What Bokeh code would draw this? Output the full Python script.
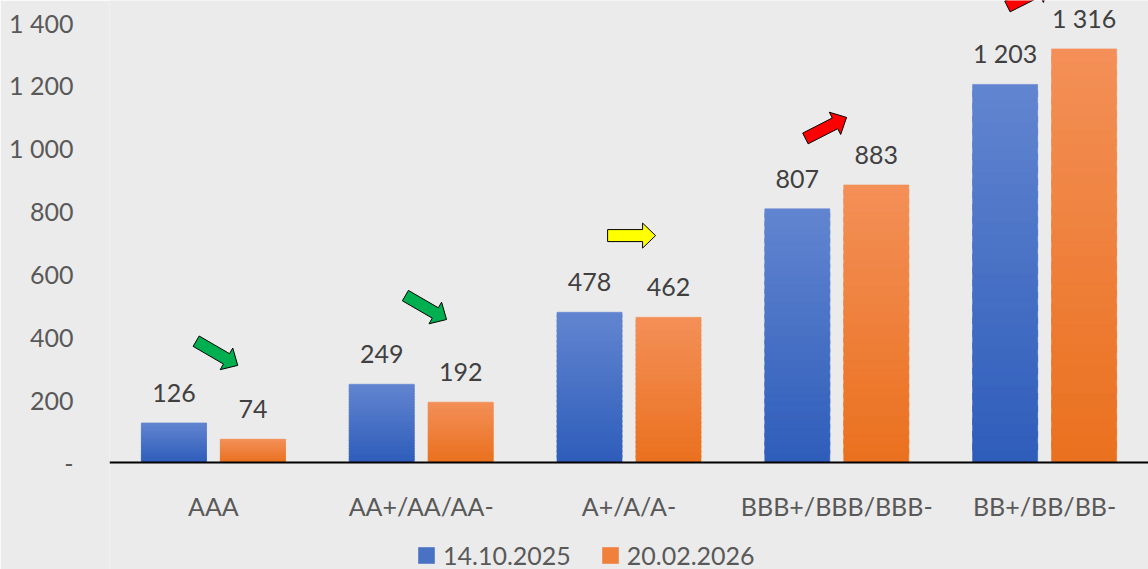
import numpy as np
from bokeh.plotting import figure
from bokeh.models import Range1d, FixedTicker, ColumnDataSource, Legend, LegendItem, LabelSet
from bokeh.core.properties import value
from bokeh.embed import file_html
from bokeh.resources import INLINE

# ---------------- data ----------------
categories = ["AAA", "AA+/AA/AA-", "A+/A/A-", "BBB+/BBB/BBB-", "BB+/BB/BB-"]
series_names = ["14.10.2025", "20.02.2026"]
values_2025 = [126, 249, 478, 807, 1203]
values_2026 = [74, 192, 462, 883, 1316]
y_ticks = [0, 200, 400, 600, 800, 1000, 1200, 1400]
y_tick_labels = ["-", "200", "400", "600", "800", "1 000", "1 200", "1 400"]
# trend arrows (decoration): tail x, tail y, tip x, tip y, colour
arrow_tail_x = [0.417, 1.424, 2.397, 3.349, 4.321]
arrow_tail_y = [386, 531, 722, 1031, 1451]
arrow_tip_x = [0.617, 1.622, 2.628, 3.547, 4.523]
arrow_tip_y = [309, 455, 722, 1098, 1518]
arrow_colors = ["#00B050", "#00B050", "#FFFF00", "#FF0000", "#FF0000"]

# ---------------- style ----------------
W, H = 1148, 569
LEFT = 109
AXIS_PX = 462          # pixel row of the value-zero line
FW, FH = W - LEFT, H
Y_MAX = 1470
PX_PER_UNIT = AXIS_PX / Y_MAX
Y_MIN = -(H - AXIS_PX) / PX_PER_UNIT
FONT = "Lato"
BG = "#EBEBEB"
TXT = "#595959"
BAR_W = 0.313
OFF = 0.19
blue_top, blue_bot = np.array([98, 133, 208]), np.array([46, 93, 186])
orng_top, orng_bot = np.array([243, 144, 88]), np.array([234, 112, 30])

p = figure(frame_width=FW, frame_height=FH, output_backend="svg", toolbar_location=None,
           x_range=Range1d(0, len(categories)), y_range=Range1d(Y_MIN, Y_MAX),
           min_border_left=LEFT, min_border_right=0, min_border_top=0,
           min_border_bottom=0)
p.background_fill_color = BG
p.border_fill_color = BG
p.outline_line_color = None
p.grid.visible = False


def hexc(c):
    c = np.clip(np.round(c), 0, 255).astype(int)
    return "#%02x%02x%02x" % tuple(c)


N = 30
renderers = []
for si, (vals, top_c, bot_c) in enumerate([(values_2025, blue_top, blue_bot),
                                             (values_2026, orng_top, orng_bot)]):
    xs, bots, tops, cols = [], [], [], []
    for ci, v in enumerate(vals):
        xc = ci + 0.5 + (-OFF if si == 0 else OFF)
        for k in range(N):
            t = (k + 0.5) / N
            xs.append(xc)
            bots.append(v * k / N)
            tops.append(v * min(k + 1.5, N) / N)
            cols.append(hexc(bot_c + (top_c - bot_c) * t))
    src = ColumnDataSource(dict(x=xs, bottom=bots, top=tops, color=cols))
    r = p.vbar(x="x", bottom="bottom", top="top", width=BAR_W, source=src,
               fill_color="color", line_color="color", line_width=0.6)
    renderers.append(r)

# value labels
lx, ly, lt = [], [], []
for si, vals in enumerate([values_2025, values_2026]):
    for ci, v in enumerate(vals):
        lx.append(ci + 0.5 + (-OFF if si == 0 else OFF))
        ly.append(v)
        lt.append(f"{v:,}".replace(",", " "))
lsrc = ColumnDataSource(dict(x=lx, y=ly, t=lt))
p.add_layout(LabelSet(x="x", y="y", text="t", source=lsrc, y_offset=21,
                      text_align="center", text_baseline="alphabetic",
                      text_font=value(FONT), text_font_size="25px", text_color="#404040"))

# arrows
sx = FW / len(categories)
sy = PX_PER_UNIT
pxs, pys = [], []
for tx, ty, hx, hy, col in zip(arrow_tail_x, arrow_tail_y, arrow_tip_x, arrow_tip_y, arrow_colors):
    a = np.array([tx * sx, ty * sy])
    b = np.array([hx * sx, hy * sy])
    d = b - a
    L = np.hypot(*d)
    u = d / L
    n = np.array([-u[1], u[0]])
    sw, hw, hl = 6.0, 12.5, 13.0
    base = b - u * hl
    pts = [a + n * sw, base + n * sw, base + n * hw, b, base - n * hw, base - n * sw, a - n * sw]
    pxs.append([q[0] / sx for q in pts])
    pys.append([q[1] / sy for q in pts])
p.patches(pxs, pys, fill_color=arrow_colors, line_color="black", line_width=1)

# axes
p.xaxis.fixed_location = 0
p.xaxis.ticker = FixedTicker(ticks=[i + 0.5 for i in range(len(categories))])
p.xaxis.major_label_overrides = {i + 0.5: c for i, c in enumerate(categories)}
p.xaxis.axis_line_color = "black"
p.xaxis.axis_line_width = 2
p.xaxis.major_tick_line_color = None
p.xaxis.minor_tick_line_color = None
p.xaxis.major_label_standoff = 22
p.xaxis.major_label_text_font = FONT
p.xaxis.major_label_text_font_size = "25px"
p.xaxis.major_label_text_color = TXT

p.yaxis.ticker = FixedTicker(ticks=y_ticks)
p.yaxis.major_label_overrides = {t: s for t, s in zip(y_ticks, y_tick_labels)}
p.yaxis.axis_line_color = None
p.yaxis.major_tick_line_color = None
p.yaxis.minor_tick_line_color = None
p.yaxis.major_label_standoff = 30
p.yaxis.major_label_text_font = FONT
p.yaxis.major_label_text_font_size = "25px"
p.yaxis.major_label_text_color = TXT

legend = Legend(items=[LegendItem(label=series_names[0], renderers=[renderers[0]], index=N // 2),
                       LegendItem(label=series_names[1], renderers=[renderers[1]], index=N // 2)],
                orientation="horizontal", location=(307, -1),
                background_fill_alpha=0, border_line_color=None,
                label_text_font=FONT, label_text_font_size="25px", label_text_color=TXT,
                glyph_width=20, glyph_height=20, label_standoff=7, spacing=29,
                margin=0, padding=0)
p.add_layout(legend, "center")

open("out.html", "w").write(file_html(p, INLINE))
